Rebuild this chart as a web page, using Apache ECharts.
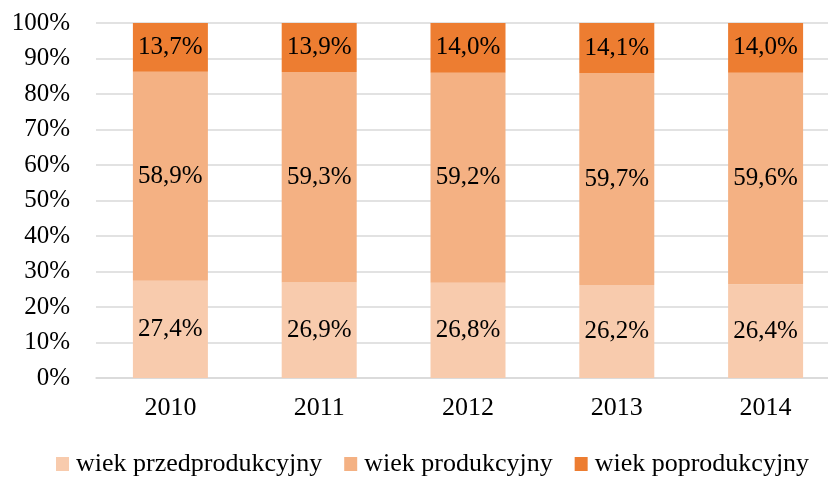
<!DOCTYPE html>
<html>
<head>
<meta charset="utf-8">
<script src="https://cdn.jsdelivr.net/npm/echarts@6/dist/echarts.min.js"></script>
<style>
  html, body { margin: 0; padding: 0; background: #fff; overflow: hidden; }
  /* wykres szerszy niż okno – prawa kolumna jest przycięta jak w oryginale */
  #chart { width: 840px; height: 477px; }
</style>
</head>
<body>
<div id="chart"></div>
<script>
// lata
const years = ['2010', '2011', '2012', '2013', '2014'];
// udział grup wieku (%)
const przedprodukcyjny = [27.4, 26.9, 26.8, 26.2, 26.4];
const produkcyjny = [58.9, 59.3, 59.2, 59.7, 59.6];
const poprodukcyjny = [13.7, 13.9, 14.0, 14.1, 14.0];
const seriesNames = ['wiek przedprodukcyjny', 'wiek produkcyjny', 'wiek poprodukcyjny'];
const colors = ['#F8CBAD', '#F4B183', '#ED7D31'];

const font = '"Liberation Serif", "Times New Roman", serif';

const myChart = echarts.init(document.getElementById('chart'));

function fmt(v) {
  return v.toFixed(1).replace('.', ',') + '%';
}

const option = {
  animation: false,
  textStyle: { fontFamily: font },
  grid: {
    left: 96,
    top: 23,
    width: 744,
    height: 355,
    outerBoundsMode: 'none',
  },
  legend: {
    top: 450,
    left: 56,
    padding: 0,
    itemWidth: 13,
    itemHeight: 14,
    itemGap: 22,
    icon: 'rect',
    textStyle: { fontFamily: font, fontSize: 26, lineHeight: 28, color: '#000', padding: [0, 0, 0, 2] },
    data: seriesNames,
  },
  xAxis: {
    type: 'category',
    data: years,
    axisTick: { show: false },
    axisLine: { lineStyle: { color: '#D9D9D9', width: 1.5 } },
    axisLabel: { color: '#000', fontSize: 26, fontFamily: font, margin: 17 },
  },
  yAxis: {
    type: 'value',
    min: 0,
    max: 100,
    interval: 10,
    axisLine: { show: false },
    axisTick: { show: false },
    splitLine: { lineStyle: { color: '#D9D9D9', width: 1.5 } },
    axisLabel: {
      color: '#000',
      fontSize: 25,
      fontFamily: font,
      margin: 26,
      formatter: '{value}%',
    },
  },
  series: [przedprodukcyjny, produkcyjny, poprodukcyjny].map((d, i) => ({
    name: seriesNames[i],
    type: 'bar',
    stack: 'total', // 100% skumulowane
    barWidth: 75,
    itemStyle: { color: colors[i] },
    label: {
      show: true,
      position: 'inside',
      color: '#000',
      fontSize: 25,
      fontFamily: font,
      formatter: (p) => fmt(p.value),
    },
    data: d,
  })),
};

myChart.setOption(option);
</script>
</body>
</html>
